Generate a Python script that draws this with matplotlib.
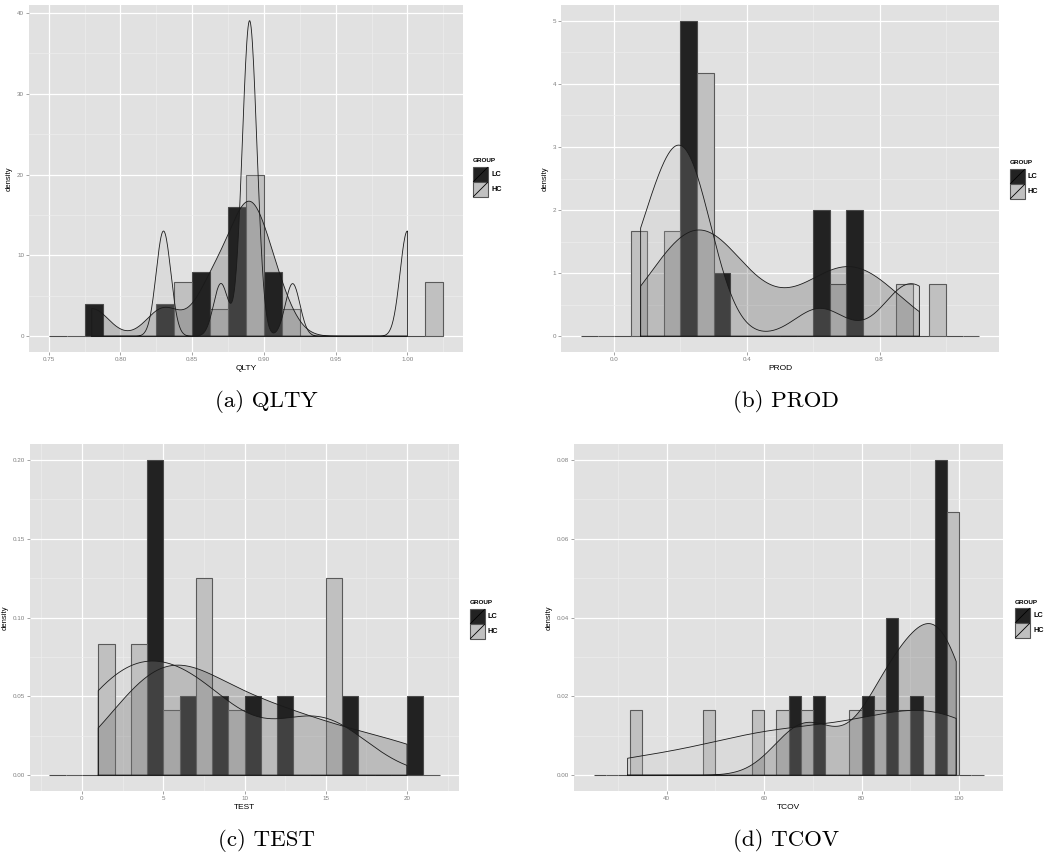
import numpy as np
import matplotlib.pyplot as plt
from matplotlib.patches import Rectangle
from matplotlib.lines import Line2D

W, H = 1044, 861

# observations behind each histogram / density, per metric and group
qlty_lc = [0.78, 0.83, 0.86, 0.87, 0.88, 0.89, 0.89, 0.89, 0.90, 0.91]
qlty_hc = [0.83, 0.83, 0.87, 0.89, 0.89, 0.89, 0.89, 0.89, 0.89, 0.92, 1.00, 1.00]
prod_lc = [0.20, 0.22, 0.24, 0.26, 0.28, 0.33, 0.64, 0.69, 0.73, 0.78]
prod_hc = [0.08, 0.09, 0.15, 0.18, 0.20, 0.21, 0.22, 0.24, 0.27, 0.62, 0.87, 0.92]
test_lc = [4, 4, 5, 5, 7, 9, 11, 13, 16, 20]
test_hc = [1, 1, 3, 3, 4, 6, 7, 7, 9, 14, 15, 15]
tcov_lc = [66, 71, 82, 86, 88, 91, 95.5, 96.5, 97, 98]
tcov_hc = [32, 48, 58, 63, 68, 78, 83, 88, 96, 97.5, 98.5, 99.4]

names = ["QLTY", "PROD", "TEST", "TCOV"]
captions = ["(a) QLTY", "(b) PROD", "(c) TEST", "(d) TCOV"]
groups = ["LC", "HC"]
bin_start = [0.75, -0.1, -2, 25]
bin_width = [0.025, 0.1, 2, 5]
n_bins = [11, 12, 12, 16]
x_ticks = [[0.75, 0.80, 0.85, 0.90, 0.95, 1.00], [0.0, 0.4, 0.8],
           [0, 5, 10, 15, 20], [40, 60, 80, 100]]
x_labels = [["0.75", "0.80", "0.85", "0.90", "0.95", "1.00"], ["0.0", "0.4", "0.8"],
            ["0", "5", "10", "15", "20"], ["40", "60", "80", "100"]]
y_ticks = [[0, 10, 20, 30, 40], [0, 1, 2, 3, 4, 5],
           [0, 0.05, 0.10, 0.15, 0.20], [0, 0.02, 0.04, 0.06, 0.08]]
y_labels = [["0", "10", "20", "30", "40"], ["0", "1", "2", "3", "4", "5"],
            ["0.00", "0.05", "0.10", "0.15", "0.20"], ["0.00", "0.02", "0.04", "0.06", "0.08"]]

data = [(qlty_lc, qlty_hc), (prod_lc, prod_hc), (test_lc, test_hc), (tcov_lc, tcov_hc)]

# layout in pixels: panel boxes (left, top, width, height), legend anchor, caption centre
panels = [(29, 5, 434, 347), (561, 5, 438, 347), (30, 444, 429, 347), (574, 444, 429, 347)]
legends = [(473, 161), (1010, 163), (470, 603), (1015, 602)]
cap_pos = [(266, 402), (786, 402), (266, 841), (786, 841)]

LC_COL = "#222222"
HC_COL = "#c0c0c0"
BG = "#e1e1e1"

plt.rcParams['font.family'] = ['Liberation Sans', 'DejaVu Sans']


def nrd0(v):
    v = np.asarray(v, float)
    q75, q25 = np.percentile(v, [75, 25])
    s = min(np.std(v, ddof=1), (q75 - q25) / 1.34)
    return 0.9 * s * len(v) ** -0.2


def kde(v, grid):
    v = np.asarray(v, float)
    h = nrd0(v)
    z = (grid[:, None] - v[None, :]) / h
    return np.exp(-0.5 * z ** 2).sum(1) / (len(v) * h * np.sqrt(2 * np.pi))


def minor_between(major, lo, hi):
    step = major[1] - major[0]
    ext = np.concatenate([[major[0] - step], major, [major[-1] + step]])
    mids = (ext[:-1] + ext[1:]) / 2
    return [m for m in mids if lo <= m <= hi]


def fx(x):
    return x / W


def fy(y):
    return 1 - y / H


fig = plt.figure(figsize=(W / 100, H / 100), dpi=100)
fig.patch.set_facecolor("white")

for i in range(4):
    l, t, w_px, h_px = panels[i]
    ax = fig.add_axes([fx(l), fy(t + h_px), w_px / W, h_px / H])
    ax.set_facecolor(BG)
    lc, hc = data[i]
    w = bin_width[i]
    edges = np.round(bin_start[i] + w * np.arange(n_bins[i] + 1), 6)
    h_lc, _ = np.histogram(lc, edges, density=True)
    h_hc, _ = np.histogram(hc, edges, density=True)
    ax.bar(edges[:-1], h_lc, width=w / 2, align='edge', color=LC_COL,
           edgecolor="#4a4a4a", linewidth=0.8, zorder=2)
    ax.bar(edges[:-1] + w / 2, h_hc, width=w / 2, align='edge', color=HC_COL,
           edgecolor="#5a5a5a", linewidth=0.8, zorder=2)

    lo = min(min(lc), min(hc))
    hi = max(max(lc), max(hc))
    grid = np.linspace(lo, hi, 512)
    ymax = max(h_lc.max(), h_hc.max())
    for vals, col in ((lc, LC_COL), (hc, HC_COL)):
        d = kde(vals, grid)
        ymax = max(ymax, d.max())
        xs = np.concatenate([[lo], grid, [hi], [lo]])
        ys = np.concatenate([[0], d, [0], [0]])
        ax.fill(xs, ys, facecolor=col, alpha=0.2, edgecolor='none', zorder=3)
        ax.plot(xs, ys, color="#1a1a1a", linewidth=0.6, zorder=4)

    span = edges[-1] - edges[0]
    xlim = (edges[0] - 0.05 * span, edges[-1] + 0.05 * span)
    ylim = (-0.05 * ymax, 1.05 * ymax)
    ax.set_xlim(xlim)
    ax.set_ylim(ylim)

    ax.set_xticks(x_ticks[i])
    ax.set_xticklabels(x_labels[i])
    ax.set_yticks(y_ticks[i])
    ax.set_yticklabels(y_labels[i])
    ax.set_xticks(minor_between(x_ticks[i], *xlim), minor=True)
    ax.set_yticks(minor_between(y_ticks[i], *ylim), minor=True)
    ax.grid(which='major', color='white', linewidth=0.9, zorder=0)
    ax.grid(which='minor', color='#efefef', linewidth=0.45, zorder=0)
    ax.set_axisbelow(True)
    ax.tick_params(which='major', length=2, width=0.5, color='#7f7f7f',
                   labelsize=4.5, labelcolor='#7f7f7f', pad=1.5)
    ax.tick_params(which='minor', length=0)
    for s in ax.spines.values():
        s.set_visible(False)
    ax.set_xlabel(names[i], fontsize=6, labelpad=2)
    ax.set_ylabel("density", fontsize=5.5, labelpad=3)

    # legend drawn by hand
    lx, ly = legends[i]
    fig.text(fx(lx), fy(ly), "GROUP", fontsize=4.6, fontweight='bold',
             va='center', ha='left')
    for k, (g, col) in enumerate(zip(groups, (LC_COL, HC_COL))):
        top = ly + 6 + 15 * k
        fig.add_artist(Rectangle((fx(lx), fy(top + 15)), 15 / W, 15 / H,
                                 transform=fig.transFigure, facecolor=col,
                                 edgecolor="#555555", linewidth=0.8))
        fig.add_artist(Line2D([fx(lx + 0.5), fx(lx + 14.5)], [fy(top + 14.5), fy(top + 0.5)],
                              transform=fig.transFigure, color="black", linewidth=0.6))
        fig.text(fx(lx + 18), fy(top + 7.5), g, fontsize=5.3, fontweight='bold',
                 va='center', ha='left')

    cx, cy = cap_pos[i]
    fig.text(fx(cx), fy(cy), captions[i], fontsize=16.5, family=['cmr10', 'DejaVu Serif'],
             ha='center', va='center')

fig.savefig("out.png", dpi=100)
